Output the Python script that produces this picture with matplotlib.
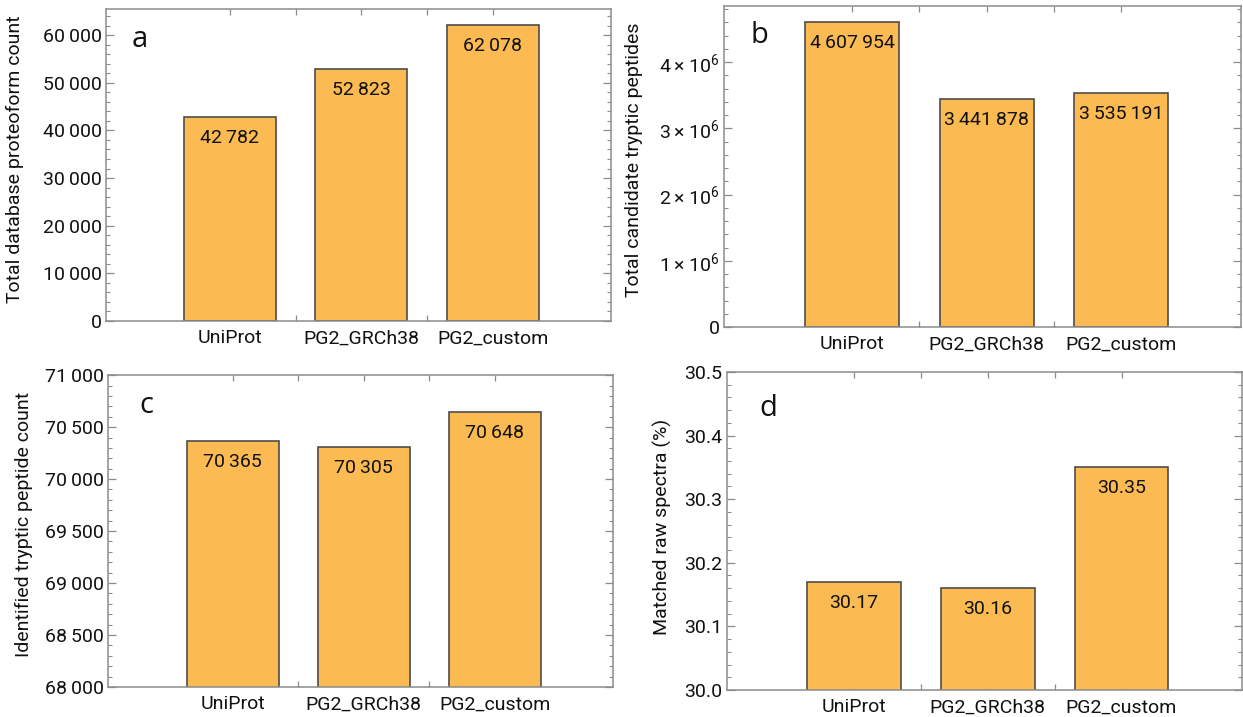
import matplotlib
matplotlib.use("Agg")
import matplotlib.pyplot as plt
from matplotlib.ticker import FuncFormatter, MultipleLocator, FixedLocator

plt.rcParams['font.family'] = ['Roboto', 'DejaVu Sans']
plt.rcParams['mathtext.default'] = 'regular'

categories = ["UniProt", "PG2_GRCh38", "PG2_custom"]
proteoform_count = [42782, 52823, 62078]
candidate_peptides = [4607954, 3441878, 3535191]
identified_peptides = [70365, 70305, 70648]
matched_spectra = [30.17, 30.16, 30.35]

BAR_COLOR = "#FBBA52"
EDGE_COLOR = "#4d4d4d"
FRAME_COLOR = "#8c8c8c"
THIN = "\u2009"


def thousands(v, pos=None):
    v = int(round(v))
    return f"{v:,}".replace(",", THIN)


def sci(v, pos=None):
    if abs(v) < 1e-9:
        return "0"
    m = v / 1e6
    return f"{m:g}{THIN}\u00d7{THIN}10$^{{6}}$"


def dec1(v, pos=None):
    return f"{v:.1f}"


fig = plt.figure(figsize=(12.43, 7.17), dpi=100)

panels = [
    dict(rect=[0.0853, 0.5523, 0.4063, 0.4350], vals=proteoform_count, ylim=(0, 65450),
         major=10000, minor=2000, fmt=thousands, lab=lambda v: thousands(v),
         ylabel="Total database proteoform count", letter="a", lpos=(0.051, 0.88),
         ylab_pos=(-0.162, 0.52), xlim=(0.057, 3.9)),
    dict(rect=[0.5825, 0.5439, 0.4159, 0.4477], vals=candidate_peptides, ylim=(0, 4.845e6),
         major=1e6, minor=2e5, fmt=sci, lab=lambda v: thousands(v),
         ylabel="Total candidate tryptic peptides", letter="b", lpos=(0.052, 0.885),
         ylab_pos=(-0.157, 0.52), xlim=(0.048, 3.89)),
    dict(rect=[0.0869, 0.0418, 0.4063, 0.4350], vals=identified_peptides, ylim=(68000, 71000),
         major=500, minor=100, fmt=thousands, lab=lambda v: thousands(v),
         ylabel="Identified tryptic peptide count", letter="c", lpos=(0.063, 0.878),
         ylab_pos=(-0.149, 0.52), xlim=(0.05, 3.9)),
    dict(rect=[0.5845, 0.0377, 0.4147, 0.4435], vals=matched_spectra, ylim=(30.0, 30.5),
         major=0.1, minor=0.02, fmt=dec1, lab=lambda v: f"{v:.2f}",
         ylabel="Matched raw spectra (%)", letter="d", lpos=(0.063, 0.862),
         ylab_pos=(-0.106, 0.513), xlim=(0.049, 3.9)),
]

x = [1, 2, 3]
for p in panels:
    ax = fig.add_axes(p["rect"])
    bars = ax.bar(x, p["vals"], width=0.70, color=BAR_COLOR, edgecolor=EDGE_COLOR,
                  linewidth=1.2, zorder=2)
    ax.set_xlim(*p["xlim"])
    ax.set_ylim(*p["ylim"])
    for b, v in zip(bars, p["vals"]):
        ax.annotate(p["lab"](v), (b.get_x() + b.get_width() / 2, b.get_height()),
                    xytext=(0, -15), textcoords="offset points",
                    ha="center", va="center", fontsize=14, color="#111111", zorder=3)
    ax.xaxis.set_major_locator(FixedLocator(x))
    ax.xaxis.set_minor_locator(FixedLocator([1.5, 2.5]))
    ax.set_xticklabels(categories, fontsize=14)
    ax.yaxis.set_major_locator(MultipleLocator(p["major"]))
    ax.yaxis.set_minor_locator(MultipleLocator(p["minor"]))
    ax.yaxis.set_major_formatter(FuncFormatter(p["fmt"]))
    ax.tick_params(axis="y", which="major", direction="in", length=6, width=0.9,
                   colors=FRAME_COLOR, labelcolor="#111111", labelsize=14,
                   left=True, right=True, pad=3)
    ax.tick_params(axis="y", which="minor", direction="in", length=3, width=0.8,
                   colors=FRAME_COLOR, left=True, right=True)
    ax.tick_params(axis="x", which="both", direction="in", length=4, width=0.9,
                   colors=FRAME_COLOR, labelcolor="#111111", top=True, bottom=True, pad=6)
    for s in ax.spines.values():
        s.set_color(FRAME_COLOR)
        s.set_linewidth(1.1)
    ax.set_ylabel(p["ylabel"], fontsize=14, color="#111111")
    ax.yaxis.set_label_coords(*p["ylab_pos"])
    ax.text(p["lpos"][0], p["lpos"][1], p["letter"], transform=ax.transAxes,
            fontsize=21, family=["Open Sans", "DejaVu Sans"], va="baseline", ha="left",
            color="#111111")

fig.savefig("out.png", dpi=100)
